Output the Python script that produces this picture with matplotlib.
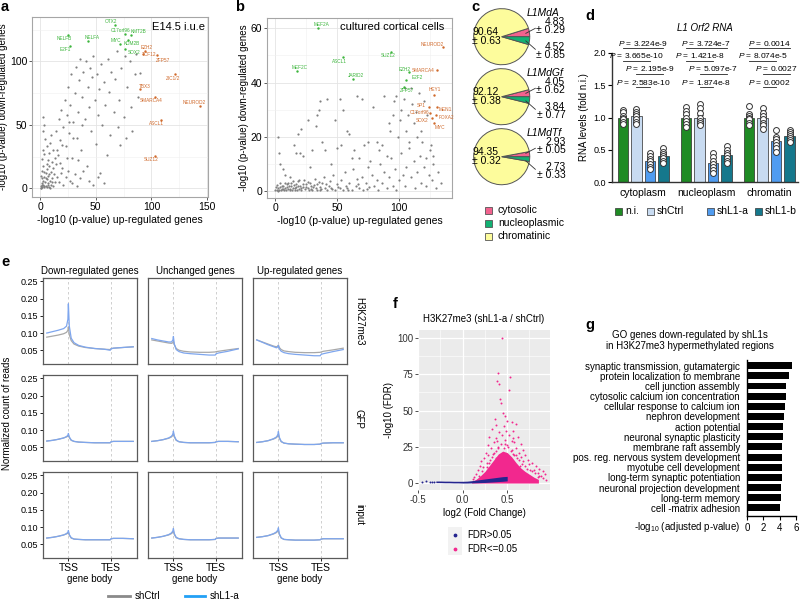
import matplotlib.pyplot as plt
from matplotlib.patches import Rectangle

plt.rcParams['font.family'] = ['Liberation Sans', 'DejaVu Sans']
plt.rcParams['mathtext.fontset'] = 'custom'
plt.rcParams['mathtext.rm'] = 'Liberation Sans'
plt.rcParams['mathtext.it'] = 'Liberation Sans:italic'

W, H = 800, 601

# ---------------- data ----------------
# a: E14.5 i.u.e scatter (gray = other genes)
a_bg = [(0.5, 0.5), (1, 2), (1.5, 4), (2, 1), (2.5, 6), (3, 3), (3.5, 9), (4, 1.5), (4.5, 5), (5, 12),
        (5.5, 2), (6, 7), (6.5, 15), (7, 4), (7.5, 10), (8, 1), (8.5, 18), (9, 6), (9.5, 13), (10, 3),
        (10.5, 21), (11, 8), (11.5, 16), (12, 2), (12.5, 11), (13, 24), (13.5, 5), (14, 19), (1, 10),
        (2, 14), (3, 18), (1.5, 23), (4, 27), (2.5, 30), (6, 33), (3, 45), (3.5, 50), (3, 56), (4.5, 39),
        (7, 22), (8, 28), (9, 36), (10, 42), (12, 30), (14, 45), (15, 9), (16, 26), (17, 55), (18, 38),
        (19, 62), (20, 16), (21, 48), (22, 70), (23, 33), (24, 58), (25, 80), (26, 44), (27, 66), (28, 90),
        (29, 24), (30, 52), (31, 75), (32, 96), (33, 40), (34, 60), (35, 85), (36, 102), (37, 30), (38, 72),
        (39, 92), (40, 55), (41, 100), (42, 18), (43, 80), (44, 64), (45, 95), (46, 45), (47, 88), (48, 104),
        (49, 70), (50, 35), (51, 90), (52, 58), (53, 78), (54, 12), (55, 98), (56, 50), (57, 84), (58, 66),
        (60, 26), (61, 102), (62, 76), (63, 42), (64, 92), (66, 60), (67, 86), (69, 108), (70, 48),
        (71, 70), (72, 34), (73, 95), (75, 56), (76, 104), (77, 40), (78, 80), (81, 100), (82, 64),
        (83, 45), (85, 90), (86, 106), (88, 72), (90, 91), (17, 5), (19, 12), (21, 3), (23, 9), (25, 14),
        (27, 6), (29, 4), (31, 11), (33, 2), (36, 8), (39, 14), (44, 6), (48, 3), (52, 9), (57, 4),
        (1, 0.2), (2, 3), (3.5, 1), (5, 8), (6, 1), (7.5, 3), (9, 0.5), (11, 5), (2, 8), (4, 13),
        (6, 19), (8, 11), (15, 30), (18, 20), (20, 34), (24, 24), (26, 52), (30, 40), (34, 22), (38, 50)]
a_green = ['OTX2', 'NELFB', 'E2F1', 'NELFA', 'C17orf96', 'KMT2B', 'MYC', 'KDM2B', 'SOX2']
a_green_x = [67, 25, 26.5, 43.5, 76, 82, 72, 79.4, 76]
a_green_y = [129, 121, 112, 116, 122, 121, 114, 117, 110]
a_orange = ['EZH2', 'TCF12', 'ZFP57', 'ZIC1/2', 'TBX3', 'SMARCA4', 'NEUROD2', 'ASCL1', 'SUZ12']
a_orange_x = [94, 92, 105, 121.5, 90, 103, 143.6, 109, 103]
a_orange_y = [108, 106, 105, 90, 78, 72, 65, 54, 25.5]

# b: cultured cortical cells scatter
b_bg = [(0, 0.2), (1, 0.5), (2, 1), (3, 0.3), (4, 1.5), (5, 0.8), (6, 2), (7, 0.4), (8, 1.2), (9, 2.5),
        (10, 0.6), (11, 1.8), (12, 0.2), (13, 3), (14, 1), (15, 2.2), (16, 0.5), (17, 1.5), (18, 3.5),
        (19, 0.9), (20, 2), (21, 0.3), (22, 1.3), (23, 4), (24, 0.7), (25, 2.5), (26, 1.1), (27, 0.4),
        (28, 3), (29, 1.7), (30, 0.5), (31, 2.3), (32, 4.5), (33, 1), (34, 0.2), (35, 3.2), (36, 1.5),
        (37, 0.6), (38, 2.8), (39, 5), (40, 1.2), (42, 0.4), (43, 2), (44, 3.5), (45, 1), (47, 6),
        (48, 0.5), (50, 2.5), (52, 1), (53, 4), (55, 0.3), (56, 7), (57, 2), (58, 1), (60, 3), (62, 0.5),
        (63, 8), (65, 2), (66, 4.5), (68, 1), (70, 5), (71, 0.4), (73, 3), (75, 9), (76, 1.5), (78, 6),
        (80, 2), (82, 4), (83, 0.5), (85, 10), (86, 3), (88, 7), (90, 1), (92, 5), (94, 12), (95, 2),
        (97, 8), (98, 0.5), (100, 4), (102, 14), (103, 6), (105, 2), (106, 9), (108, 16), (110, 5),
        (112, 11), (113, 1), (115, 7), (117, 13), (118, 3), (120, 9), (122, 2), (124, 6), (125, 15),
        (127, 4), (128, 10), (130, 1), (132, 7), (134, 3),
        (0.5, 1.4), (1.5, 2.2), (2.5, 0.1), (3.5, 2.8), (4.5, 0.4), (5.5, 1.9), (6.5, 0.9), (7.5, 3.1),
        (8.5, 0.2), (9.5, 1.6), (10.5, 2.9), (11.5, 0.7), (12.5, 1.9), (13.5, 0.4), (14.5, 3.6),
        (15.5, 1.2), (16.5, 2.6), (17.5, 0.2), (18.5, 1.9), (19.5, 4.2), (20.5, 1.1), (22.5, 2.7),
        (24.5, 1.6), (26.5, 3.4), (28.5, 0.9), (30.5, 1.4), (33.5, 2.6), (36.5, 0.3), (41, 2.7),
        (46, 0.8), (51, 1.5), (59, 0.2), (67, 2.5), (74, 0.8),
        (2, 20), (3, 14), (4, 10), (6, 8), (8, 6), (12, 5), (15, 17), (17, 14), (18, 21), (20, 14),
        (21, 23), (22, 13), (26, 26), (28, 9), (30, 15), (33, 24), (34, 28), (35, 30), (36, 33), (38, 18),
        (40, 15), (42, 34), (45, 10), (48, 26), (50, 16), (52, 34), (53, 17), (55, 30), (58, 22), (60, 21),
        (62, 12), (64, 15), (66, 35), (68, 12), (70, 34), (72, 17), (75, 18), (77, 11), (79, 31), (82, 18),
        (84, 15), (86, 17), (88, 35), (90, 13), (92, 25), (93, 22), (95, 28), (96, 33), (98, 35), (99, 20),
        (101, 26), (102, 30), (104, 34), (105, 38), (106, 22), (107, 28), (108, 18), (110, 38), (111, 32),
        (112, 25), (114, 29), (115, 20), (116, 36), (118, 22), (119, 18), (120, 33), (122, 12), (123, 28),
        (126, 17), (128, 13)]
b_green = ['MEF2A', 'MEF2C', 'ASCL1', 'JARID2', 'SUZ12', 'EZH2', 'E2F2', 'ZFP57']
b_green_x = [34.1, 17.2, 54.8, 62.8, 93.8, 108, 106, 104]
b_green_y = [60, 44.4, 49.3, 41.2, 51.4, 43.7, 41, 38.5]
b_orange = ['NEUROD2', 'SMARCA4', 'HEY1', 'SP1', 'MEN1', 'C17orf96', 'FOXA2', 'SOX2', 'MYC']
b_orange_x = [135.4, 131, 128.7, 124.7, 131, 125.5, 130.3, 126.8, 128.7]
b_orange_y = [53.2, 44.6, 35.4, 31, 31, 28.8, 28, 27, 25]

# c: L1 RNA fractions (%)
c_families = ['L1MdA', 'L1MdGf', 'L1MdTf']
c_cyto = [4.83, 4.05, 2.93]
c_cyto_err = [0.29, 0.62, 0.05]
c_nucleo = [4.52, 3.84, 2.73]
c_nucleo_err = [0.85, 0.77, 0.33]
c_chrom = [90.64, 92.12, 94.35]
c_chrom_err = [0.63, 0.38, 0.32]
c_legend = ['cytosolic', 'nucleoplasmic', 'chromatinic']

# d: L1 Orf2 RNA levels
d_fractions = ['cytoplasm', 'nucleoplasm', 'chromatin']
d_groups = ['n.i.', 'shCtrl', 'shL1-a', 'shL1-b']
d_means = [[1.0, 1.02, 0.33, 0.41], [1.0, 1.0, 0.29, 0.42], [1.0, 0.99, 0.63, 0.71]]
d_sem = [[0.03, 0.03, 0.04, 0.03], [0.04, 0.04, 0.04, 0.03], [0.03, 0.04, 0.04, 0.02]]
d_points = [
    [[1.12, 1.08, 1.03, 1.0, 0.97, 0.93, 0.90], [1.13, 1.09, 1.05, 1.02, 0.98, 0.93, 0.90],
     [0.45, 0.40, 0.36, 0.32, 0.28, 0.24, 0.20], [0.53, 0.47, 0.43, 0.40, 0.37, 0.33, 0.30]],
    [[1.16, 1.10, 1.05, 1.0, 0.95, 0.90, 0.85], [1.21, 1.15, 1.07, 1.0, 0.95, 0.91, 0.88],
     [0.45, 0.38, 0.32, 0.28, 0.23, 0.18, 0.14], [0.56, 0.50, 0.45, 0.42, 0.37, 0.33, 0.30]],
    [[1.18, 1.05, 1.02, 1.0, 0.97, 0.92, 0.89], [1.14, 1.07, 1.02, 0.97, 0.92, 0.88, 0.82],
     [0.80, 0.70, 0.66, 0.62, 0.58, 0.52, 0.46], [0.80, 0.77, 0.74, 0.71, 0.68, 0.65, 0.62]]]
# comparisons: (bar i, bar j, label) per fraction, top row first
d_pvals = [
    [(0, 3, '3.224e-9'), (0, 2, '3.665e-10'), (1, 3, '2.195e-9'), (1, 2, '2.583e-10')],
    [(0, 3, '3.724e-7'), (0, 2, '1.421e-8'), (1, 3, '5.097e-7'), (1, 2, '1.874e-8')],
    [(0, 3, '0.0014'), (0, 2, '8.074e-5'), (1, 3, '0.0027'), (1, 2, '0.0002')]]
d_prow_y = [2.07, 1.88, 1.68, 1.47]

# e: metagene profiles, x in % of plotted window, TSS and TES marks
e_x = [4, 10, 16, 22, 25, 26.5, 27, 28, 30, 33, 38, 45, 55, 65, 71.5, 72.5, 75, 85, 96]
e_tss, e_tes = 27, 72.3
e_cols = ['Down-regulated genes', 'Unchanged genes', 'Up-regulated genes']
e_rows = ['H3K27me3', 'GFP', 'input']
e_ctrl = [
    [[0.088, 0.091, 0.094, 0.098, 0.102, 0.108, 0.118, 0.095, 0.078, 0.068, 0.062, 0.058, 0.055, 0.053, 0.052, 0.055, 0.056, 0.058, 0.060],
     [0.080, 0.077, 0.074, 0.071, 0.070, 0.072, 0.076, 0.066, 0.055, 0.050, 0.047, 0.045, 0.044, 0.044, 0.045, 0.046, 0.047, 0.051, 0.055],
     [0.080, 0.074, 0.068, 0.062, 0.060, 0.062, 0.065, 0.058, 0.052, 0.048, 0.046, 0.044, 0.043, 0.043, 0.044, 0.045, 0.047, 0.051, 0.056]],
    [[0.068, 0.070, 0.073, 0.077, 0.080, 0.082, 0.085, 0.078, 0.070, 0.067, 0.065, 0.064, 0.063, 0.063, 0.063, 0.066, 0.067, 0.067, 0.067],
     [0.067, 0.069, 0.072, 0.076, 0.080, 0.085, 0.090, 0.080, 0.070, 0.066, 0.064, 0.063, 0.063, 0.063, 0.064, 0.066, 0.067, 0.067, 0.066],
     [0.064, 0.066, 0.069, 0.074, 0.078, 0.083, 0.088, 0.076, 0.066, 0.062, 0.060, 0.059, 0.058, 0.058, 0.059, 0.061, 0.062, 0.063, 0.063]],
    [[0.068, 0.070, 0.073, 0.077, 0.080, 0.082, 0.085, 0.076, 0.068, 0.065, 0.064, 0.063, 0.063, 0.063, 0.063, 0.066, 0.067, 0.067, 0.066],
     [0.068, 0.070, 0.073, 0.077, 0.081, 0.085, 0.089, 0.078, 0.069, 0.066, 0.064, 0.063, 0.063, 0.063, 0.064, 0.067, 0.068, 0.068, 0.068],
     [0.070, 0.072, 0.075, 0.080, 0.084, 0.088, 0.090, 0.078, 0.068, 0.064, 0.063, 0.062, 0.062, 0.062, 0.063, 0.065, 0.066, 0.066, 0.066]]]
e_shl1 = [
    [[0.100, 0.104, 0.108, 0.113, 0.120, 0.140, 0.185, 0.120, 0.085, 0.072, 0.064, 0.059, 0.055, 0.053, 0.050, 0.054, 0.056, 0.058, 0.060],
     [0.084, 0.080, 0.077, 0.074, 0.074, 0.080, 0.090, 0.068, 0.052, 0.046, 0.042, 0.040, 0.038, 0.036, 0.036, 0.040, 0.042, 0.047, 0.054],
     [0.080, 0.073, 0.066, 0.060, 0.057, 0.060, 0.064, 0.054, 0.047, 0.043, 0.040, 0.038, 0.036, 0.034, 0.034, 0.038, 0.040, 0.046, 0.052]],
    [[0.068, 0.070, 0.073, 0.077, 0.081, 0.085, 0.090, 0.080, 0.071, 0.067, 0.065, 0.064, 0.063, 0.063, 0.063, 0.066, 0.067, 0.067, 0.067],
     [0.067, 0.069, 0.072, 0.077, 0.082, 0.088, 0.097, 0.083, 0.071, 0.066, 0.064, 0.063, 0.063, 0.063, 0.064, 0.066, 0.067, 0.067, 0.066],
     [0.064, 0.066, 0.069, 0.075, 0.080, 0.087, 0.096, 0.079, 0.067, 0.062, 0.060, 0.059, 0.058, 0.058, 0.059, 0.061, 0.062, 0.063, 0.063]],
    [[0.068, 0.070, 0.073, 0.077, 0.081, 0.085, 0.090, 0.078, 0.069, 0.065, 0.064, 0.063, 0.063, 0.063, 0.063, 0.066, 0.067, 0.067, 0.066],
     [0.068, 0.070, 0.073, 0.078, 0.083, 0.089, 0.096, 0.081, 0.070, 0.066, 0.064, 0.063, 0.063, 0.063, 0.064, 0.067, 0.068, 0.068, 0.068],
     [0.070, 0.072, 0.075, 0.081, 0.086, 0.092, 0.098, 0.081, 0.069, 0.064, 0.063, 0.062, 0.062, 0.062, 0.063, 0.065, 0.066, 0.066, 0.066]]]

# f: volcano H3K27me3 (shL1-a / shCtrl)
f_blue_x = [-0.30, -0.25, -0.20, -0.15, -0.10, -0.05, 0.0, 0.05, 0.10, 0.15, 0.20, 0.25, 0.30, 0.35, 0.40, 0.45, 0.50]
f_blue_lo = [0.3, 0.3, 0.2, 0.2, 0.1, 0.1, 0.0, 0.0, 0.1, 0.2, 0.3, 0.4, 0.6, 0.8, 1.0, 1.2, 1.5]
f_blue_hi = [1.4, 1.4, 1.3, 1.3, 1.2, 1.2, 1.2, 1.3, 1.6, 2.0, 2.4, 2.8, 3.2, 3.6, 4.0, 4.4, 4.6]
f_blue_sparse = [(-0.45, 1.0), (-0.41, 1.1), (-0.37, 0.8), (-0.34, 1.0), (-0.32, 0.6)]
f_pink_x = [0.10, 0.15, 0.20, 0.25, 0.30, 0.35, 0.40, 0.45, 0.50, 0.55, 0.60, 0.65, 0.70, 0.75, 0.80, 0.85]
f_pink_top = [1, 2.5, 5, 8, 12, 16, 20, 22, 21, 18, 14, 10.5, 8, 6, 4, 2.5]
f_pink_pts = [(0.44, 100), (0.40, 76), (0.53, 73), (0.39, 70), (0.41, 68), (0.52, 64), (0.42, 58), (0.43, 55),
              (0.45, 48), (0.47, 46), (0.36, 44), (0.50, 43), (0.55, 42), (0.38, 40), (0.60, 41), (0.46, 39),
              (0.33, 37), (0.49, 36), (0.57, 36), (0.41, 35), (0.44, 33), (0.52, 33), (0.30, 32), (0.62, 32),
              (0.37, 31), (0.48, 30), (0.55, 29), (0.35, 28), (0.58, 28), (0.43, 27), (0.65, 27), (0.28, 26),
              (0.40, 25), (0.51, 25), (0.32, 24), (0.46, 24), (0.60, 24), (0.68, 23), (0.38, 22), (0.54, 22),
              (0.26, 21), (0.45, 21), (0.63, 21), (0.34, 20), (0.57, 20), (0.70, 19), (0.29, 19), (0.42, 19),
              (0.50, 18), (0.66, 18), (0.24, 17), (0.37, 17), (0.61, 17), (0.73, 16), (0.31, 16), (0.55, 16),
              (0.21, 15), (0.47, 15), (0.68, 15), (0.78, 14), (0.27, 14), (0.58, 14), (0.35, 13), (0.75, 13),
              (0.82, 12), (0.19, 12), (0.64, 12), (0.86, 10), (0.23, 11), (0.80, 9), (0.90, 8), (0.17, 9),
              (0.84, 7), (0.15, 6), (0.92, 6), (0.88, 5), (0.13, 4), (0.56, 31), (0.48, 27), (0.39, 29),
              (0.22, 8), (0.27, 11), (0.33, 18), (0.58, 19), (0.63, 16), (0.70, 12), (0.76, 9), (0.81, 7),
              (0.86, 5), (0.90, 3.5), (0.94, 2), (0.12, 2.5), (0.18, 5), (0.30, 14), (0.35, 21), (0.40, 24),
              (0.50, 26), (0.55, 23), (0.60, 19), (0.67, 13), (0.72, 10), (0.78, 8), (0.84, 4)]

# g: GO terms
g_terms = ['synaptic transmission, gutamatergic', 'protein localization to membrane', 'cell junction assembly',
           'cytosolic calcium ion concentration', 'cellular response to calcium ion', 'nephron development',
           'action potential', 'neuronal synaptic plasticity', 'membrane raft assembly',
           'pos. reg. nervous system development', 'myotube cell development', 'long-term synaptic potentiation',
           'neuronal projection development', 'long-term memory', 'cell -matrix adhesion']
g_vals = [5.47, 5.18, 4.77, 4.77, 4.65, 4.53, 4.44, 4.36, 4.32, 4.24, 4.24, 4.24, 4.16, 4.12, 4.03]

# ---------------- drawing ----------------
fig = plt.figure(figsize=(W / 100, H / 100), dpi=100)


def px_axes(left, top, width, height):
    return fig.add_axes([left / W, 1 - (top + height) / H, width / W, height / H])


def gg_box(ax, minor_x, minor_y):
    for s in ax.spines.values():
        s.set_color('#a6a6a6')
        s.set_linewidth(0.8)
    ax.set_xticks(minor_x, minor=True)
    ax.set_yticks(minor_y, minor=True)
    ax.grid(True, which='major', color='#e4e4e4', lw=0.6)
    ax.grid(True, which='minor', color='#f0f0f0', lw=0.4)
    ax.set_axisbelow(True)
    ax.tick_params(which='major', length=2, width=0.6, color='#444', labelsize=7.5, pad=1.5)
    ax.tick_params(which='minor', length=0)


label_off_a = {'OTX2': (-4, 3.5), 'NELFB': (-4, -3.5), 'E2F1': (-4, -3.5), 'NELFA': (4, 3.3),
               'C17orf96': (-4, 3.5), 'KMT2B': (7, 3.5), 'MYC': (-4, 3.3), 'KDM2B': (3, -4),
               'SOX2': (9, -3.3), 'EZH2': (2, 3.3), 'TCF12': (7, -0.7), 'ZFP57': (6, -5.7),
               'ZIC1/2': (-2.7, -4), 'TBX3': (4, 3), 'SMARCA4': (-3.3, -3.5), 'NEUROD2': (-6, 3.3),
               'ASCL1': (-5, -3.3), 'SUZ12': (-3.3, -3.7)}
label_off_b = {'MEF2A': (3.7, 4), 'MEF2C': (3.3, 3.3), 'ASCL1': (-3.3, -3.7), 'JARID2': (3.3, 3.3),
               'SUZ12': (-3.3, -4), 'EZH2': (-4, 3.3), 'E2F2': (11, 2), 'ZFP57': (3, -3.5),
               'NEUROD2': (-10, 2), 'SMARCA4': (-14, 0), 'HEY1': (0, 5), 'SP1': (-8, 1),
               'MEN1': (8, -3), 'C17orf96': (-11, 0), 'FOXA2': (10, -2), 'SOX2': (-10, -2.5),
               'MYC': (6, -4)}


def gene_labels(ax, names, xs, ys, color, offsets):
    ax.scatter(xs, ys, s=3, color=color, lw=0, zorder=3)
    for n, x, y in zip(names, xs, ys):
        dx, dy = offsets[n]
        ax.annotate(n, (x, y), xytext=(dx * 0.72, dy * 0.72), textcoords='offset points',
                    fontsize=3.4, color=color, ha='center', va='center', zorder=4, annotation_clip=False)


green_c, orange_c = '#3cb53c', '#d06a2c'

# a
ax = px_axes(32, 17, 176, 180)
gg_box(ax, [25, 75, 125], [25, 75, 125])
ax.scatter([p[0] for p in a_bg], [p[1] for p in a_bg], s=2.5, color='#808080', lw=0)
gene_labels(ax, a_green, a_green_x, a_green_y, green_c, label_off_a)
gene_labels(ax, a_orange, a_orange_x, a_orange_y, orange_c, label_off_a)
ax.set_xlim(-7.2, 150.8)
ax.set_ylim(-6.8, 135)
ax.set_xticks([0, 50, 100, 150])
ax.set_yticks([0, 50, 100])
ax.set_xlabel('-log10 (p-value) up-regulated genes', fontsize=7.5, labelpad=2)
ax.set_ylabel('-log10 (p-value) down-regulated genes', fontsize=7, labelpad=1)
ax.text(0.985, 0.975, 'E14.5 i.u.e', transform=ax.transAxes, ha='right', va='top', fontsize=8)

# b
ax = px_axes(267, 18, 185, 180)
gg_box(ax, [25, 75, 125], [10, 30, 50])
ax.scatter([p[0] for p in b_bg], [p[1] for p in b_bg], s=2.5, color='#808080', lw=0)
gene_labels(ax, b_green, b_green_x, b_green_y, green_c, label_off_b)
gene_labels(ax, b_orange, b_orange_x, b_orange_y, orange_c, label_off_b)
ax.set_xlim(-6.8, 143)
ax.set_ylim(-2.6, 63.8)
ax.set_xticks([0, 50, 100])
ax.set_yticks([0, 20, 40, 60])
ax.set_xlabel('-log10 (p-value) up-regulated genes', fontsize=7.5, labelpad=2)
ax.set_ylabel('-log10 (p-value) down-regulated genes', fontsize=7, labelpad=1)
ax.text(0.96, 0.975, 'cultured cortical cells', transform=ax.transAxes, ha='right', va='top', fontsize=8)

# c
pink, green, yellow = '#f2628e', '#12b173', '#fdfc9c'
for i in range(3):
    ax = px_axes(501.7 - 30, 36.7 + 60 * i - 30, 60, 60)
    ax.pie([c_cyto[i], c_chrom[i], c_nucleo[i]], colors=[pink, yellow, green], startangle=0,
           wedgeprops=dict(edgecolor='#555555', linewidth=0.7))
    ax.set_xlim(-1.07, 1.07)
    ax.set_ylim(-1.07, 1.07)
    ax.text(-0.56, 0.0, f'{c_chrom[i]:.2f}\n± {c_chrom_err[i]:.2f}', ha='center', va='center',
            fontsize=7.5, linespacing=0.85)
    ax.text(0.9, 0.86, c_families[i], ha='left', va='center', fontsize=7.5, style='italic', clip_on=False)
    ax.text(2.27, 0.38, f'{c_cyto[i]:.2f}\n± {c_cyto_err[i]:.2f}', ha='right', va='center',
            fontsize=7.5, linespacing=0.85, clip_on=False)
    ax.text(2.27, -0.51, f'{c_nucleo[i]:.2f}\n± {c_nucleo_err[i]:.2f}', ha='right', va='center',
            fontsize=7.5, linespacing=0.85, clip_on=False)
    ax.plot([0.86, 1.2], [0.12, 0.3], color='#333333', lw=0.6, clip_on=False)
    ax.plot([0.86, 1.2], [-0.15, -0.45], color='#333333', lw=0.6, clip_on=False)

# d
d_colors = ['#1f8b24', '#c8dbf1', '#509cf0', '#15788c']
gap = 4.67
ax = px_axes(612, 53, 186, 129)
for g in range(3):
    for i in range(4):
        xc = g * gap + i
        ax.bar(xc, d_means[g][i], width=0.78, color=d_colors[i], edgecolor='#2b2b2b', lw=0.5, zorder=2)
        ax.errorbar(xc, d_means[g][i], yerr=d_sem[g][i], color='#222222', lw=0.7, capsize=2,
                    capthick=0.7, zorder=3)
        ax.scatter([xc] * len(d_points[g][i]), d_points[g][i], s=18, facecolor='white',
                   edgecolor='#333333', lw=0.7, zorder=4)
    for (bi, bj, lab), yy in zip(d_pvals[g], d_prow_y):
        x1, x2 = g * gap + bi, g * gap + bj
        ax.plot([x1, x2], [yy, yy], color='#222222', lw=0.6, clip_on=False)
        ax.text((x1 + x2) / 2, yy + 0.01, r'$\it{P}$ = ' + lab, ha='center', va='bottom', fontsize=6,
                clip_on=False)
ax.set_xlim(-0.81, 12.96)
ax.set_ylim(0, 2.0)
ax.set_yticks([0, 0.5, 1.0, 1.5, 2.0])
ax.set_yticklabels(['0.0', '0.5', '1.0', '1.5', '2.0'])
ax.set_xticks([g * gap + 1.5 for g in range(3)])
ax.set_xticklabels(d_fractions, fontsize=7.5)
ax.tick_params(axis='x', length=0, pad=4)
ax.tick_params(axis='y', labelsize=6.5, length=3, width=0.8, pad=1.5)
for s in ['top', 'right']:
    ax.spines[s].set_visible(False)
for s in ['left', 'bottom']:
    ax.spines[s].set_linewidth(1.0)
    ax.spines[s].set_color('#333333')
ax.set_ylabel('RNA levels (fold n.i.)', fontsize=7, labelpad=3)
ax.set_title('L1 Orf2 RNA', fontsize=7, style='italic', pad=16)

# e
cols_l = [43, 148, 253]
rows_t = [278, 375, 472]
for r in range(3):
    for c in range(3):
        ax = px_axes(cols_l[c], rows_t[r], 94, 86)
        ax.axvline(e_tss, color='#c8c8c8', lw=0.6, ls=(0, (3, 3)))
        ax.axvline(e_tes, color='#c8c8c8', lw=0.6, ls=(0, (3, 3)))
        ax.plot(e_x, e_ctrl[r][c], color='#a8a8a8', lw=0.9)
        ax.plot(e_x, e_shl1[r][c], color='#7ea6ee', lw=0.9)
        ax.set_xlim(0, 100)
        ax.set_ylim(0.01, 0.26)
        for s in ax.spines.values():
            s.set_color('#5a5a5a')
            s.set_linewidth(0.9)
        ax.set_yticks([0.05, 0.10, 0.15, 0.20, 0.25])
        ax.tick_params(labelsize=6.5, length=2, width=0.6, pad=1.5)
        if c > 0:
            ax.set_yticklabels([])
            ax.tick_params(axis='y', length=0)
        if r < 2:
            ax.set_xticks([])
        else:
            ax.set_xticks([e_tss, e_tes])
            ax.set_xticklabels(['TSS', 'TES'], fontsize=7.5)
            ax.set_xlabel('gene body', fontsize=7, labelpad=1)
        if r == 0:
            ax.set_title(e_cols[c], fontsize=7, pad=3)

# f
navy, fpink = '#25258f', '#f2288e'
ax = px_axes(418, 330, 132, 160)
ax.set_facecolor('#ebebeb')
ax.fill_between(f_pink_x, 0, f_pink_top, color=fpink, lw=0, zorder=2)
ax.scatter([p[0] for p in f_pink_pts], [p[1] for p in f_pink_pts], s=2, color=fpink, lw=0, zorder=2)
ax.fill_between(f_blue_x, f_blue_lo, f_blue_hi, color=navy, lw=0, zorder=3)
ax.scatter([p[0] for p in f_blue_sparse], [p[1] for p in f_blue_sparse], s=2, color=navy, lw=0, zorder=3)
ax.set_xlim(-0.49, 0.98)
ax.set_ylim(-4.8, 105.5)
ax.set_xticks([-0.5, 0.0, 0.5])
ax.set_xticklabels(['-0.5', '0.0', '0.5'])
ax.set_yticks([0, 25, 50, 75, 100])
ax.set_xticks([-0.25, 0.25, 0.75], minor=True)
ax.set_yticks([12.5, 37.5, 62.5, 87.5], minor=True)
ax.grid(True, which='major', color='white', lw=0.9)
ax.grid(True, which='minor', color='white', lw=0.4)
ax.set_axisbelow(True)
for s in ax.spines.values():
    s.set_visible(False)
ax.tick_params(which='major', labelsize=7, length=2, width=0.6, color='#333333', labelcolor='#333333', pad=1.5)
ax.tick_params(which='minor', length=0)
ax.set_xlabel('log2 (Fold Change)', fontsize=7, labelpad=2)
ax.set_ylabel('-log10 (FDR)', fontsize=7, labelpad=2)
ax.set_title('H3K27me3 (shL1-a / shCtrl)', fontsize=7, pad=6)

# g
ax = px_axes(747, 359.6, 49, 156.4)
ypos = list(range(len(g_terms)))
ax.barh(ypos, g_vals, height=0.68, color='black')
ax.set_ylim(14.8, -0.6)
ax.set_xlim(0, 6)
ax.set_yticks(ypos)
ax.set_yticklabels(g_terms, fontsize=7)
ax.set_xticks([0, 2, 4, 6])
ax.tick_params(axis='y', length=0, pad=5)
ax.tick_params(axis='x', labelsize=7, length=3, width=0.8, pad=2)
for s in ['top', 'right']:
    ax.spines[s].set_visible(False)
for s in ['left', 'bottom']:
    ax.spines[s].set_linewidth(1.0)

# overlay in pixel coordinates for letters, legends, strips
ov = fig.add_axes([0, 0, 1, 1], zorder=10)
ov.set_xlim(0, W)
ov.set_ylim(H, 0)
ov.axis('off')
for lab, x, y in [('a', 5, 7), ('b', 240, 7), ('c', 475, 7), ('d', 590, 16), ('e', 5, 262),
                  ('f', 395, 304), ('g', 590, 325)]:
    ov.text(x, y, lab, fontsize=10.5, fontweight='bold', ha='center', va='center')

for i, (lab, col) in enumerate(zip(c_legend, [pink, green, yellow])):
    ov.add_patch(Rectangle((485, 206.5 + 13 * i), 7, 7, facecolor=col, edgecolor='#555555', lw=0.6))
    ov.text(498, 210 + 13 * i, lab, fontsize=7.5, va='center')

for lab, col, x in zip(d_groups, d_colors, [615, 647, 707, 755]):
    ov.add_patch(Rectangle((x, 207.5), 7, 7, facecolor=col, edgecolor='#333333', lw=0.5))
    ov.text(x + 10, 211, lab, fontsize=7.5, va='center')

ov.text(7, 413, 'Normalized count of reads', rotation=90, fontsize=7, ha='center', va='center')
for lab, y in zip(e_rows, [321.5, 418.5, 515]):
    ov.text(359, y, lab, rotation=-90, fontsize=7, ha='center', va='center')
ov.plot([108, 130], [596, 596], color='#8a8a8a', lw=2)
ov.text(135, 596, 'shCtrl', fontsize=7, va='center')
ov.plot([185, 205], [596, 596], color='#22a0f5', lw=2)
ov.text(210, 596, 'shL1-a', fontsize=7, va='center')

ov.add_patch(Rectangle((448, 527), 14, 28, facecolor='#f2f2f2', edgecolor='none'))
ov.scatter([455], [535], s=3, color=navy)
ov.scatter([455], [549], s=3, color=fpink)
ov.text(467, 535, 'FDR>0.05', fontsize=7, va='center')
ov.text(467, 549, 'FDR<=0.05', fontsize=7, va='center')

ov.text(690, 335, 'GO genes down-regulated by shL1s', fontsize=7, ha='center', va='center')
ov.text(690, 346, 'in H3K27me3 hypermethylated regions', fontsize=7, ha='center', va='center')
ov.text(740, 527, '-log$_{10}$ (adjusted p-value)', fontsize=7, ha='right', va='center')

fig.savefig('out.png', dpi=100)
